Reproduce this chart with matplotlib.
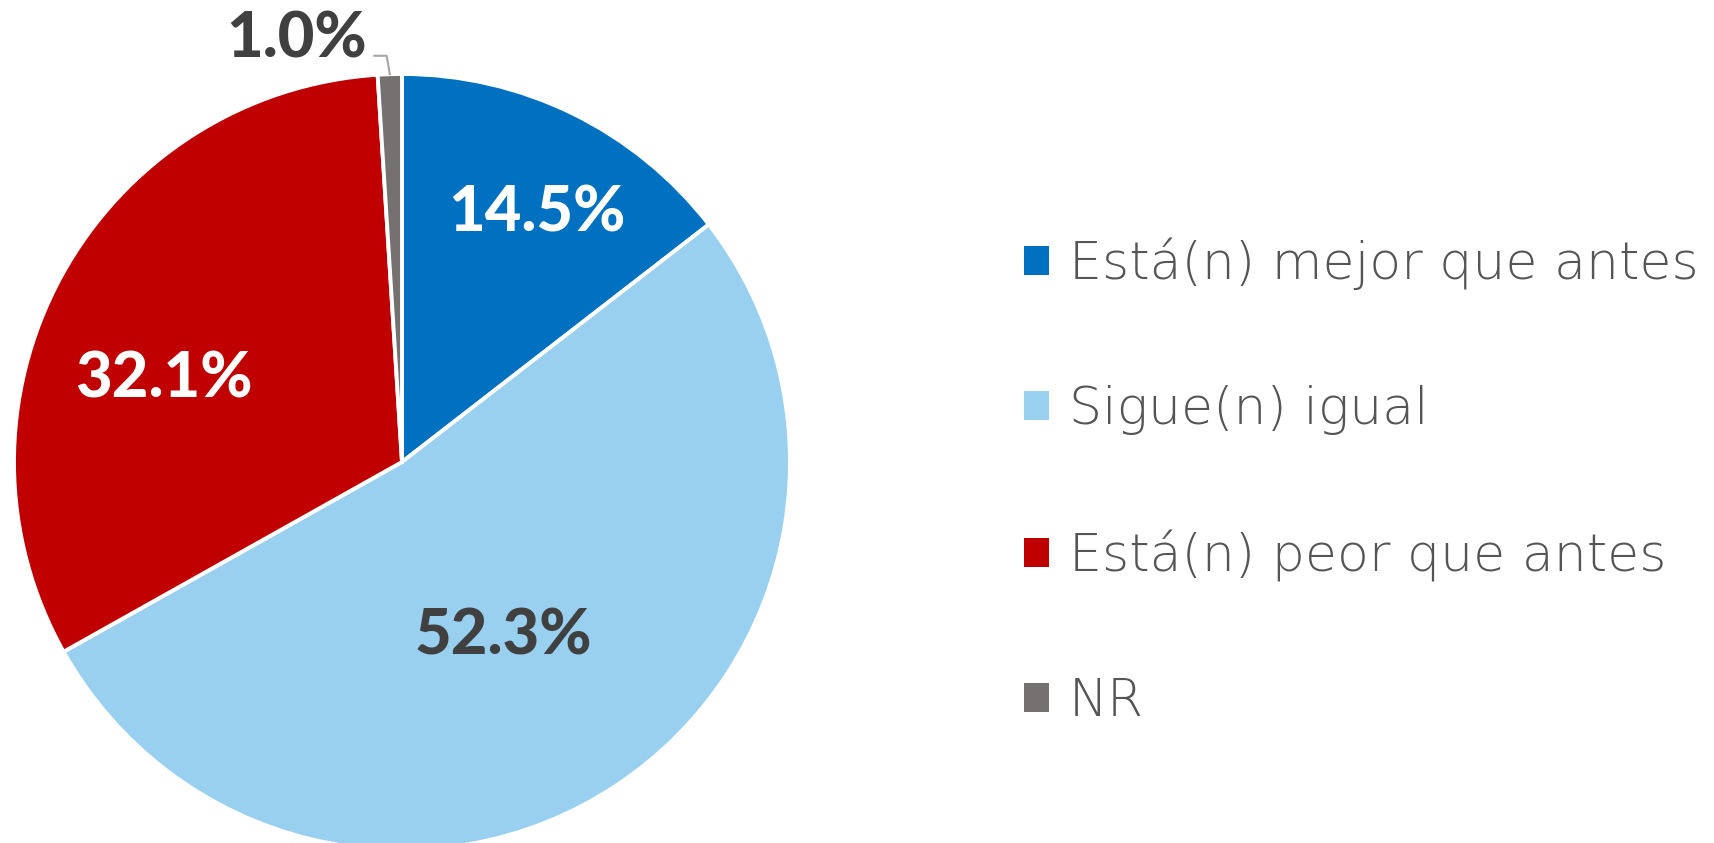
import numpy as np
import matplotlib
matplotlib.use("Agg")
import matplotlib.pyplot as plt

categories = ["Está(n) mejor que antes", "Sigue(n) igual", "Está(n) peor que antes", "NR"]
values = [14.5, 52.3, 32.1, 1.0]
labels = ["14.5%", "52.3%", "32.1%", "1.0%"]
colors = ["#0070C0", "#99D0F0", "#C00000", "#767171"]
label_colors = ["white", "#404040", "white", "#404040"]
# label layout: (radius fraction, angle in degrees)
label_layout = [(0.73, 61.5), (0.52, -59.9), (0.65, 160.8)]

W, H = 1714, 843
fig = plt.figure(figsize=(W / 100, H / 100), dpi=100)
cx, cy, R = 402, 462, 388
ax = fig.add_axes([(cx - R) / W, (H - cy - R) / H, 2 * R / W, 2 * R / H])
wedges, _ = ax.pie(values, colors=colors, startangle=90, counterclock=False,
                   wedgeprops=dict(edgecolor="white", linewidth=2.8))
ax.set_xlim(-1, 1)
ax.set_ylim(-1, 1)
ax.set_aspect("equal")
ax.axis("off")

lab_font = dict(family=["Lato", "DejaVu Sans"], fontsize=45.5, fontweight="black")

for (r, ang), lab, col in zip(label_layout, labels[:3], label_colors[:3]):
    a = np.deg2rad(ang)
    ax.text(r * np.cos(a), r * np.sin(a), lab, ha="center", va="center",
            color=col, **lab_font)

# small slice label with leader
w = wedges[3]
mid = np.deg2rad((w.theta1 + w.theta2) / 2)
p0 = (np.cos(mid), np.sin(mid))
p1 = (p0[0] - 0.008, 1.047)
p2 = (p1[0] - 0.032, 1.047)
ax.plot([p0[0], p1[0], p2[0]], [p0[1], p1[1], p2[1]], color="#A6A6A6",
        linewidth=1.5, clip_on=False)
ax.text(-0.272, 1.088, labels[3], ha="center", va="center",
        color=label_colors[3], clip_on=False, **lab_font)

leg = fig.legend(wedges, categories, loc="center left",
                 bbox_to_anchor=(1024 / W, (H - 482) / H), frameon=False,
                 borderpad=0, borderaxespad=0, handlelength=0.48, handleheight=0.48,
                 handletextpad=0.38, labelspacing=1.82,
                 prop=dict(family="DejaVu Sans", size=37.5, weight="light"))
for t in leg.get_texts():
    t.set_color("#555555")
for h in leg.legend_handles:
    h.set_edgecolor("none")

fig.savefig("out.png", dpi=100)
